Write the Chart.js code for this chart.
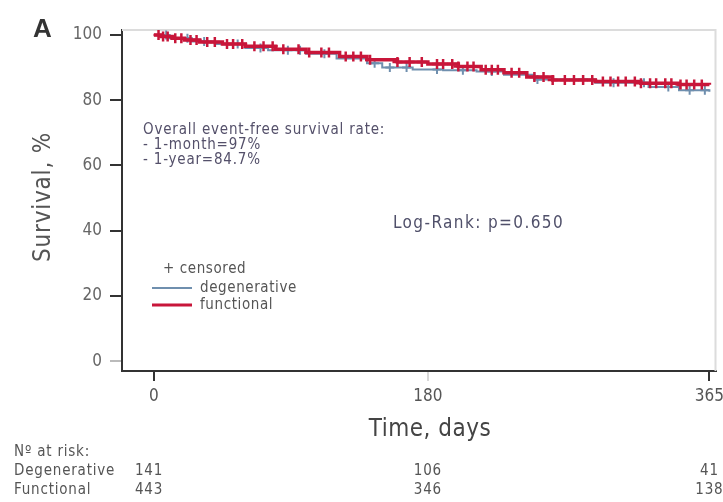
<!DOCTYPE html>
<html>
<head>
<meta charset="utf-8">
<script src="https://cdn.jsdelivr.net/npm/chart.js@4.4.1/dist/chart.umd.min.js"></script>
<style>
  html, body { margin: 0; padding: 0; background: #fff; }
  #wrap { width: 723px; height: 502px; position: relative; }
</style>
</head>
<body>
<div id="wrap"><canvas id="km" width="723" height="502"></canvas></div>
<script>
// Kaplan-Meier event times (days) and survival (%) per group
const degenerativeTimes = [0, 10, 25, 40, 60, 75, 100, 120, 140, 150, 170, 190, 212, 230, 250, 290, 325, 345, 365];
const degenerativeSurv  = [100, 99, 98, 97.2, 96, 95.3, 94.2, 92.8, 91.3, 90.0, 89.4, 89.2, 88.8, 87.8, 86.3, 85.3, 84.0, 83.0, 82.6];
const functionalTimes = [0, 5, 12, 20, 30, 45, 60, 80, 100, 122, 140, 160, 180, 200, 215, 230, 245, 262, 290, 320, 345, 365];
const functionalSurv  = [100, 99.5, 99, 98.4, 97.8, 97.2, 96.5, 95.6, 94.6, 93.4, 92.4, 91.7, 91.1, 90.3, 89.3, 88.4, 87.1, 86.2, 85.7, 85.2, 84.8, 84.7];

// Censoring times (days)
const degenerativeCensored = [8, 22, 33, 55, 70, 88, 96, 112, 145, 155, 166, 186, 203, 222, 252, 282, 302, 322, 338, 352, 362];
const functionalCensored = [3, 6, 9, 14, 18, 24, 28, 35, 40, 48, 52, 58, 66, 72, 78, 85, 95, 102, 110, 115, 126, 131, 136, 142, 160, 168, 176, 186, 190, 196, 200, 206, 210, 218, 222, 226, 235, 240, 250, 256, 262, 270, 276, 282, 288, 295, 300, 305, 310, 316, 320, 326, 330, 336, 340, 346, 350, 355, 360];

// Axis ticks
const xTicks = [0, 180, 365];
const yTicks = [0, 20, 40, 60, 80, 100];

// Number at risk
const riskTimes = [0, 180, 365];
const riskDegenerative = [141, 106, 41];
const riskFunctional = [443, 346, 138];

const RED = '#c8163a';
const BLUE = '#6f8fae';
const FONT = '"DejaVu Sans Condensed", "Liberation Sans", sans-serif';

function toPoints(ts, ss) { return ts.map((t, i) => ({ x: t, y: ss[i] })); }
function survAt(ts, ss, t) {
  let v = ss[0];
  for (let i = 0; i < ts.length; i++) { if (ts[i] <= t) v = ss[i]; }
  return v;
}
function censorPoints(cs, ts, ss) { return cs.map(t => ({ x: t, y: survAt(ts, ss, t) })); }

function spaced(ctx, px) { if ('letterSpacing' in ctx) ctx.letterSpacing = px + 'px'; }

const decorations = {
  id: 'decorations',
  beforeDatasetsDraw(chart) {
    const { ctx, chartArea: a } = chart;
    ctx.save();
    ctx.strokeStyle = '#dcdcdc';
    ctx.lineWidth = 2;
    ctx.beginPath();
    ctx.moveTo(a.left, a.top);
    ctx.lineTo(a.right, a.top);
    ctx.lineTo(a.right, a.bottom);
    ctx.stroke();
    ctx.restore();
  },
  afterDraw(chart) {
    const { ctx, scales } = chart;
    const xs = scales.x;
    ctx.save();
    // panel letter
    ctx.fillStyle = '#333';
    ctx.font = 'bold 26px "Liberation Sans", sans-serif';
    ctx.textBaseline = 'top';
    ctx.fillText('A', 33, 17);

    // y axis title
    ctx.save();
    ctx.translate(44, 197);
    ctx.rotate(-Math.PI / 2);
    ctx.textAlign = 'center';
    ctx.textBaseline = 'middle';
    ctx.fillStyle = '#555';
    ctx.font = '24px ' + FONT;
    spaced(ctx, 0.8);
    ctx.fillText('Survival, %', 0, 0);
    ctx.restore();

    // x axis title
    ctx.textAlign = 'center';
    ctx.textBaseline = 'middle';
    ctx.fillStyle = '#444';
    ctx.font = '24px ' + FONT;
    spaced(ctx, 0.5);
    ctx.fillText('Time, days', 430, 430);

    // summary text
    ctx.textAlign = 'left';
    ctx.fillStyle = '#54506a';
    ctx.font = '15px ' + FONT;
    spaced(ctx, 0.8);
    ctx.fillText('Overall event-free survival rate:', 143, 130);
    ctx.fillText('- 1-month=97%', 143, 145);
    ctx.fillText('- 1-year=84.7%', 143, 160);

    ctx.fillStyle = '#50506a';
    ctx.font = '17px ' + FONT;
    spaced(ctx, 1.4);
    ctx.fillText('Log-Rank: p=0.650', 393, 224);

    // in-plot legend
    ctx.font = '15px ' + FONT;
    spaced(ctx, 0.6);
    ctx.fillStyle = '#555';
    ctx.fillText('+ censored', 163, 269);
    ctx.lineWidth = 2;
    ctx.strokeStyle = BLUE;
    ctx.beginPath(); ctx.moveTo(152, 288); ctx.lineTo(192, 288); ctx.stroke();
    ctx.fillText('degenerative', 200, 288);
    ctx.lineWidth = 3;
    ctx.strokeStyle = RED;
    ctx.beginPath(); ctx.moveTo(152, 305); ctx.lineTo(192, 305); ctx.stroke();
    ctx.fillText('functional', 200, 305);

    // number at risk table
    ctx.fillStyle = '#555';
    ctx.font = '15px ' + FONT;
    spaced(ctx, 0.8);
    ctx.fillText('N\u00ba at risk:', 14, 452);
    ctx.fillText('Degenerative', 14, 471);
    ctx.fillText('Functional', 14, 490);
    ctx.textAlign = 'center';
    riskTimes.forEach((t, i) => {
      let px = xs.getPixelForValue(t);
      if (i === 0) px -= 5;
      ctx.fillText(String(riskDegenerative[i]), px, 471);
      ctx.fillText(String(riskFunctional[i]), px, 490);
    });
    ctx.restore();
  }
};

new Chart(document.getElementById('km'), {
  type: 'line',
  data: {
    datasets: [
      {
        label: 'functional censored', type: 'scatter', order: 0,
        data: censorPoints(functionalCensored, functionalTimes, functionalSurv),
        pointStyle: 'cross', pointRadius: 5, borderColor: RED, backgroundColor: RED, borderWidth: 2.5
      },
      {
        label: 'functional', order: 1, stepped: true,
        data: toPoints(functionalTimes, functionalSurv),
        borderColor: RED, borderWidth: 3.5, pointRadius: 0, fill: false
      },
      {
        label: 'degenerative censored', type: 'scatter', order: 2,
        data: censorPoints(degenerativeCensored, degenerativeTimes, degenerativeSurv),
        pointStyle: 'cross', pointRadius: 4.5, borderColor: BLUE, backgroundColor: BLUE, borderWidth: 2
      },
      {
        label: 'degenerative', order: 3, stepped: true,
        data: toPoints(degenerativeTimes, degenerativeSurv),
        borderColor: BLUE, borderWidth: 2, pointRadius: 0, fill: false
      }
    ]
  },
  options: {
    responsive: false,
    animation: false,
    events: [],
    layout: { padding: { top: 30, right: 7, left: 0, bottom: 0 } },
    plugins: { legend: { display: false }, tooltip: { enabled: false } },
    scales: {
      x: {
        type: 'linear', min: -21, max: 369,
        afterBuildTicks: s => { s.ticks = xTicks.map(v => ({ value: v })); },
        afterFit: s => { s.height = 131; s.paddingLeft = 0; s.paddingRight = 0; },
        grid: {
          drawOnChartArea: false, drawTicks: true, tickLength: 10, lineWidth: 2,
          color: c => (c.tick && c.tick.value === 180) ? '#d8d8d8' : '#333'
        },
        border: { display: true, color: '#333', width: 2 },
        ticks: {
          padding: 5, color: '#555', maxRotation: 0, autoSkip: false,
          font: { size: 17, family: FONT }
        }
      },
      y: {
        min: -3, max: 101.5,
        afterBuildTicks: s => { s.ticks = yTicks.map(v => ({ value: v })); },
        afterFit: s => { s.width = 122; s.paddingTop = 0; s.paddingBottom = 0; },
        grid: {
          drawOnChartArea: false, drawTicks: true, tickLength: 12, lineWidth: 2,
          color: c => (c.tick && c.tick.value === 0) ? '#bbb' : '#333'
        },
        border: { display: true, color: '#333', width: 2 },
        ticks: {
          padding: 8, color: '#666',
          font: { size: 17, family: FONT }
        }
      }
    }
  },
  plugins: [decorations]
});
</script>
</body>
</html>
